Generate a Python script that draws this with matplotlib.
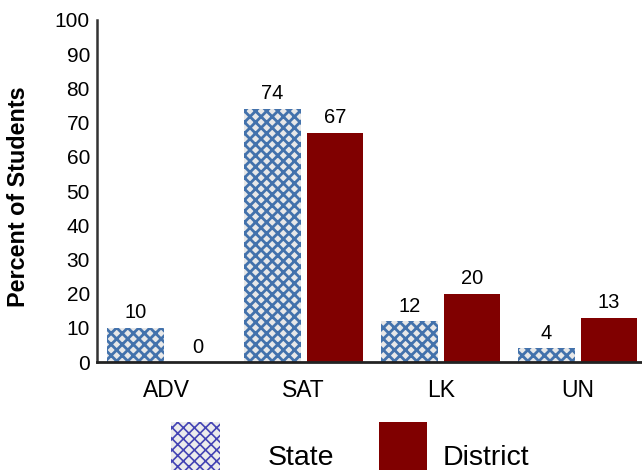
import matplotlib
matplotlib.use("Agg")
import matplotlib.pyplot as plt
from matplotlib.patches import Rectangle
import numpy as np

plt.rcParams['font.family'] = ['Liberation Sans', 'DejaVu Sans']

categories = ['ADV', 'SAT', 'LK', 'UN']
state = [10, 74, 12, 4]
district = [0, 67, 20, 13]
series_names = ['State', 'District']

state_face = '#e8e8e8'
state_hatch = '#4372ac'
district_color = '#800000'

fig = plt.figure(figsize=(6.42, 4.74), dpi=100)
ax = fig.add_axes([0.151, 0.236, 0.847, 0.722])

x = np.arange(len(categories))
w = 0.41
off = 0.228

plt.rcParams['hatch.linewidth'] = 2.0
b1 = ax.bar(x - off, state, w, color=state_face, edgecolor=state_hatch, hatch='xxx', linewidth=0)
b2 = ax.bar(x + off, district, w, color=district_color, linewidth=0)

for rect, v in zip(list(b1) + list(b2), state + district):
    ax.annotate(str(v), (rect.get_x() + rect.get_width() / 2, v),
                xytext=(0, 4), textcoords='offset points',
                ha='center', va='bottom', fontsize=14.5)

ax.set_xlim(-0.51, 3.46)
ax.set_ylim(0, 100)
ax.set_yticks(range(0, 101, 10))
ax.set_xticks(x)
ax.set_xticklabels(categories, fontsize=16.5)
ax.tick_params(axis='x', length=0, pad=12)
ax.tick_params(axis='y', length=0, pad=5, labelsize=15)
ax.set_ylabel('Percent of Students', fontsize=16.8, fontweight='bold', va='center')
ax.yaxis.set_label_coords(-0.145, 0.482)

for s in ['top', 'right']:
    ax.spines[s].set_visible(False)
ax.spines['left'].set_color('#333333')
ax.spines['left'].set_linewidth(1.8)
ax.spines['bottom'].set_color('#222222')
ax.spines['bottom'].set_linewidth(2)

# legend drawn by hand (figure-fraction layout)
W, H = 642, 474
plt.rcParams['hatch.linewidth'] = 1.2
fig.add_artist(Rectangle((171 / W, 1 - 470 / H), 49 / W, 48 / H, transform=fig.transFigure,
                         facecolor='#ececec', edgecolor='#4444b4', hatch='xxx', linewidth=0))
fig.add_artist(Rectangle((379 / W, 1 - 470 / H), 48 / W, 48 / H, transform=fig.transFigure,
                         facecolor=district_color, linewidth=0))
fig.text(268 / W, 1 - 465 / H, series_names[0], fontsize=20.5, ha='left', va='baseline')
fig.text(443 / W, 1 - 465 / H, series_names[1], fontsize=20.5, ha='left', va='baseline')

fig.savefig('out.png', dpi=100)
